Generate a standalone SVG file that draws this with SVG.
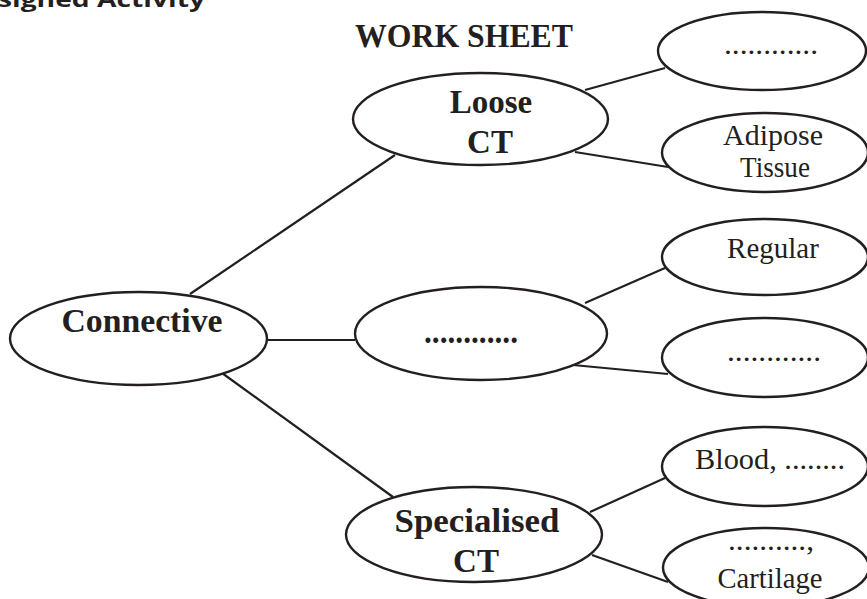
<svg xmlns="http://www.w3.org/2000/svg" width="867" height="599" viewBox="0 0 867 599">
<style>
.n{fill:#fff;stroke:#231f20;stroke-width:2.4}
.c line{stroke:#231f20;stroke-width:2.2}
.b{font-family:"Liberation Serif","Times New Roman",serif;font-weight:bold;font-size:33px;fill:#231f20;text-anchor:middle}
.r{font-family:"Liberation Serif","Times New Roman",serif;font-size:29px;fill:#231f20;text-anchor:middle}
.h{font-family:"Open Sans","DejaVu Sans",sans-serif;font-weight:bold;font-size:22px;fill:#231f20}
</style>
<rect width="867" height="599" fill="#fff"/>
<text class="h" x="-2" y="7" textLength="207" lengthAdjust="spacingAndGlyphs">signed Activity</text>
<text class="b" x="464" y="47" font-size="29" textLength="218" lengthAdjust="spacingAndGlyphs">WORK SHEET</text>
<g class="c" id="connectors">
<line x1="190" y1="294" x2="395" y2="155"/>
<line x1="267" y1="340" x2="355" y2="340"/>
<line x1="222" y1="373" x2="393" y2="497"/>
<line x1="585" y1="90" x2="665" y2="68"/>
<line x1="575" y1="152" x2="668" y2="167"/>
<line x1="585" y1="303" x2="665" y2="268"/>
<line x1="573" y1="365" x2="668" y2="374"/>
<line x1="590" y1="512" x2="665" y2="478"/>
<line x1="592" y1="555" x2="668" y2="582"/>
</g>
<g id="connective">
<ellipse class="n" cx="138.5" cy="338.5" rx="128.5" ry="46.5"/>
<text class="b" x="142" y="332" textLength="161" lengthAdjust="spacingAndGlyphs">Connective</text>
</g>
<g id="loose">
<ellipse class="n" cx="480.5" cy="119" rx="127.5" ry="46"/>
<text class="b" x="491" y="113">Loose</text>
<text class="b" x="490" y="153">CT</text>
</g>
<g id="middle">
<ellipse class="n" cx="481" cy="333.5" rx="126" ry="46.5"/>
<text class="b" x="471" y="343" textLength="94" lengthAdjust="spacingAndGlyphs">............</text>
</g>
<g id="specialised">
<ellipse class="n" cx="474" cy="534.5" rx="128" ry="47.5"/>
<text class="b" x="477" y="532" textLength="165" lengthAdjust="spacingAndGlyphs">Specialised</text>
<text class="b" x="476" y="572">CT</text>
</g>
<g id="r1">
<ellipse class="n" cx="762" cy="51" rx="104" ry="39"/>
<text class="r" x="771" y="54" textLength="94" lengthAdjust="spacingAndGlyphs">............</text>
</g>
<g id="adipose">
<ellipse class="n" cx="765" cy="152.5" rx="103" ry="39.5"/>
<text class="r" x="773" y="145" textLength="100" lengthAdjust="spacingAndGlyphs">Adipose</text>
<text class="r" x="775" y="177" textLength="70" lengthAdjust="spacingAndGlyphs">Tissue</text>
</g>
<g id="regular">
<ellipse class="n" cx="765" cy="257" rx="103" ry="38"/>
<text class="r" x="773" y="258">Regular</text>
</g>
<g id="r4">
<ellipse class="n" cx="765" cy="357.5" rx="103" ry="39.5"/>
<text class="r" x="774" y="361" textLength="94" lengthAdjust="spacingAndGlyphs">............</text>
</g>
<g id="blood">
<ellipse class="n" cx="765" cy="466.5" rx="103" ry="39.5"/>
<text class="r" x="770" y="469" textLength="150" lengthAdjust="spacingAndGlyphs">Blood, ........</text>
</g>
<g id="cartilage">
<ellipse class="n" cx="766" cy="567.5" rx="103" ry="39.5"/>
<text class="r" x="771" y="550" textLength="86" lengthAdjust="spacingAndGlyphs">..........,</text>
<text class="r" x="770" y="588" textLength="105" lengthAdjust="spacingAndGlyphs">Cartilage</text>
</g>
</svg>
